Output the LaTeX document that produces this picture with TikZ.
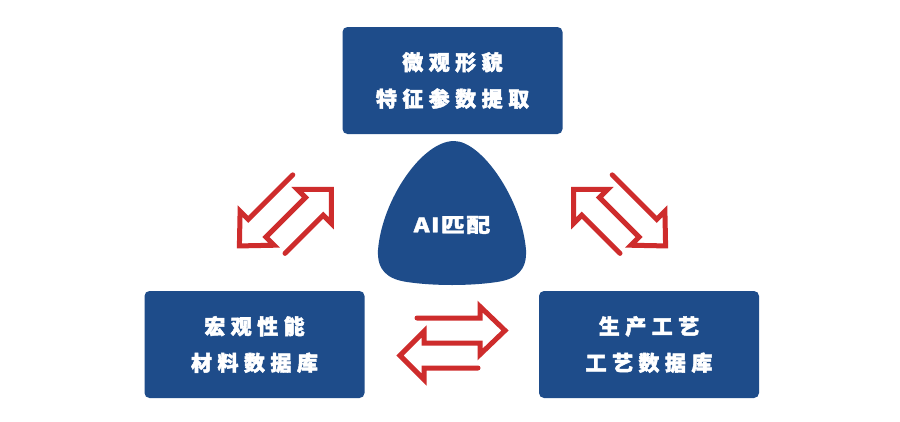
\documentclass[tikz,border=0pt]{standalone}
\usepackage{fontspec}
\newfontfamily\cjk{Noto Sans CJK SC}[LetterSpace=26, BoldFeatures={FakeBold=2.2}]
\newfontfamily\cjkai{Noto Sans CJK SC}[LetterSpace=6, BoldFeatures={FakeBold=1.5}]
\definecolor{boxblue}{RGB}{30,76,138}
\definecolor{arrred}{RGB}{206,44,44}
\tikzset{
  infobox/.style={fill=boxblue, rounded corners=5pt, minimum width=220pt,
    minimum height=107pt, text=white, align=center, inner sep=0pt,
    font=\cjk\bfseries\fontsize{21pt}{36.5pt}\selectfont},
  blobtext/.style={text=white, inner sep=0pt, xscale=1.2, transform shape,
    font=\cjkai\bfseries\fontsize{20pt}{23pt}\selectfont},
  xchgline/.style={draw=arrred, line width=5pt, line join=miter, miter limit=10, line cap=round},
  xchg/.pic={
    \draw[xchgline] (-36,-25) -- (27,-25) -- (27,-36.5) -- (52,-12.5) -- (27,11.5) -- (27,0)
      -- (-29,0) -- (-29,-11.5) -- (-53,12.5) -- (-29,36.5) -- (-29,25) -- (25,25);
  }
}
\begin{document}
\begin{tikzpicture}[x=1pt, y=-1pt]
  \useasboundingbox (0,0) rectangle (900,421);
  \fill[white] (0,0) rectangle (900,421);
  % boxes
  \node[infobox] (top) at (452.5,80.5) {微观形貌\\特征参数提取};
  \node[infobox] (left) at (254.5,344.5) {宏观性能\\材料数据库};
  \node[infobox] (right) at (649,344.5) {生产工艺\\工艺数据库};
  % central blob
  \fill[boxblue] (454,141) .. controls (482,141) and (522,200) .. (526,250)
    .. controls (527,270) and (517,279) .. (497,282)
    .. controls (470,286) and (434,286) .. (407,282)
    .. controls (387,279) and (377,270) .. (378,250)
    .. controls (382,200) and (422,141) .. (454,141) -- cycle;
  \node[blobtext] (ai) at (452,225) {AI匹配};
  % exchange icons
  \pic[rotate=45, xscale=-1] (xl) at (285,218) {xchg};
  \pic[rotate=-45] (xr) at (620,218) {xchg};
  \pic (xb) at (453,343) {xchg};
\end{tikzpicture}
\end{document}
